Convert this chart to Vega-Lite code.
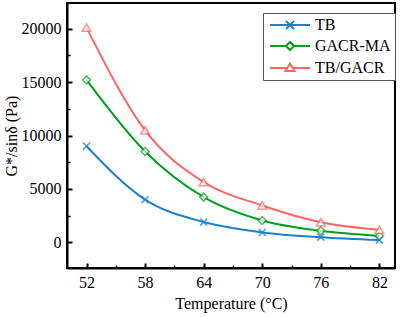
{
  "$schema": "https://vega.github.io/schema/vega-lite/v6.json",
  "autosize": "none",
  "width": 328,
  "height": 265,
  "padding": {"left": 67, "top": 3, "right": 6, "bottom": 49},
  "background": "white",
  "config": {
    "font": "Liberation Serif",
    "style": {"guide-label": {"font": "Liberation Serif"}, "guide-title": {"font": "Liberation Serif"}},
    "view": {"stroke": "black", "strokeWidth": 2},
    "axis": {"labelFont": "Liberation Serif", "titleFont": "Liberation Serif", "labelFontSize": 16, "titleFontSize": 16, "titleFontWeight": "normal", "labelColor": "black", "titleColor": "black", "domainColor": "black", "tickColor": "black", "domainWidth": 2, "tickWidth": 1.5, "grid": false},
    "legend": {"labelFont": "Liberation Serif", "labelFontSize": 16, "labelColor": "black"}
  },
  "data": {"values": [
    {"T": 52, "G": 9000, "s": "TB"},
    {"T": 58, "G": 4000, "s": "TB"},
    {"T": 64, "G": 1900, "s": "TB"},
    {"T": 70, "G": 930, "s": "TB"},
    {"T": 76, "G": 480, "s": "TB"},
    {"T": 82, "G": 220, "s": "TB"},
    {"T": 52, "G": 15200, "s": "GACR-MA"},
    {"T": 58, "G": 8500, "s": "GACR-MA"},
    {"T": 64, "G": 4230, "s": "GACR-MA"},
    {"T": 70, "G": 2050, "s": "GACR-MA"},
    {"T": 76, "G": 1080, "s": "GACR-MA"},
    {"T": 82, "G": 600, "s": "GACR-MA"},
    {"T": 52, "G": 20100, "s": "TB/GACR"},
    {"T": 58, "G": 10480, "s": "TB/GACR"},
    {"T": 64, "G": 5640, "s": "TB/GACR"},
    {"T": 70, "G": 3450, "s": "TB/GACR"},
    {"T": 76, "G": 1880, "s": "TB/GACR"},
    {"T": 82, "G": 1170, "s": "TB/GACR"}
  ]},
  "resolve": {"axis": {"x": "independent", "y": "independent"}},
  "layer": [
    {
      "mark": {"type": "line", "interpolate": "monotone", "strokeWidth": 2},
      "encoding": {
        "x": {"field": "T", "type": "quantitative", "scale": {"domain": [50, 83.6], "nice": false, "zero": false},
          "axis": {"orient": "bottom", "values": [52, 58, 64, 70, 76, 82], "format": "d", "labelFont": "Liberation Serif", "tickSize": -5, "tickWidth": 2, "labelPadding": 11, "title": "Temperature (°C)", "titlePadding": 5}},
        "y": {"field": "G", "type": "quantitative", "scale": {"domain": [-2400, 22400], "nice": false, "zero": false},
          "axis": {"orient": "left", "values": [0, 5000, 10000, 15000, 20000], "format": "d", "labelFont": "Liberation Serif", "tickSize": -5, "tickWidth": 2, "labelPadding": 11, "title": "G*/sinδ (Pa)", "titlePadding": 2}},
        "color": {"field": "s", "type": "nominal", "sort": ["TB", "GACR-MA", "TB/GACR"],
          "scale": {"domain": ["TB", "GACR-MA", "TB/GACR"], "range": ["#1f7fcf", "#00a020", "#ff6464"]},
          "legend": {"orient": "none", "legendX": 196, "legendY": 10, "title": null, "padding": 4, "strokeColor": "#555555", "fillColor": "white",
            "symbolSize": 100, "symbolStrokeWidth": 2, "labelOffset": 32, "rowPadding": 5,
            "encode": {"symbols": {"update": {
              "fill": {"value": "white"},
              "shape": {"signal": "datum.value === 'TB' ? 'M-1,0H7M2.2,-0.8L3.8,0.8M2.2,0.8L3.8,-0.8' : datum.value === 'GACR-MA' ? 'M-1,0H2.2M3.8,0H7M2.2,0L3,-0.8L3.8,0L3,0.8Z' : 'M-1,0H2.46M3.54,0H7M2.1,0.6L3,-0.9L3.9,0.6Z'"}
            }}}}}
      }
    },
    {
      "transform": [{"filter": "datum.s === 'TB'"}],
      "mark": {"type": "point", "shape": "M-0.7,-0.7L0.7,0.7M-0.7,0.7L0.7,-0.7", "filled": false, "stroke": "#1f7fcf", "strokeWidth": 1.8, "size": 100},
      "encoding": {
        "x": {"field": "T", "type": "quantitative",
          "axis": {"orient": "bottom", "values": [55, 61, 67, 73, 79], "tickSize": -3, "labels": false, "domain": false, "title": null}},
        "y": {"field": "G", "type": "quantitative",
          "axis": {"orient": "left", "values": [2500, 7500, 12500, 17500], "tickSize": -3, "labels": false, "domain": false, "title": null}}
      }
    },
    {
      "transform": [{"filter": "datum.s === 'GACR-MA'"}],
      "mark": {"type": "point", "shape": "diamond", "filled": false, "fill": "white", "stroke": "#00a020", "strokeWidth": 1.5, "size": 64},
      "encoding": {
        "x": {"field": "T", "type": "quantitative", "axis": null},
        "y": {"field": "G", "type": "quantitative", "axis": null}
      }
    },
    {
      "transform": [{"filter": "datum.s === 'TB/GACR'"}],
      "mark": {"type": "point", "shape": "triangle-up", "filled": false, "fill": "white", "stroke": "#ff6464", "strokeWidth": 1.5, "size": 75},
      "encoding": {
        "x": {"field": "T", "type": "quantitative", "axis": null},
        "y": {"field": "G", "type": "quantitative", "axis": null}
      }
    }
  ]
}
